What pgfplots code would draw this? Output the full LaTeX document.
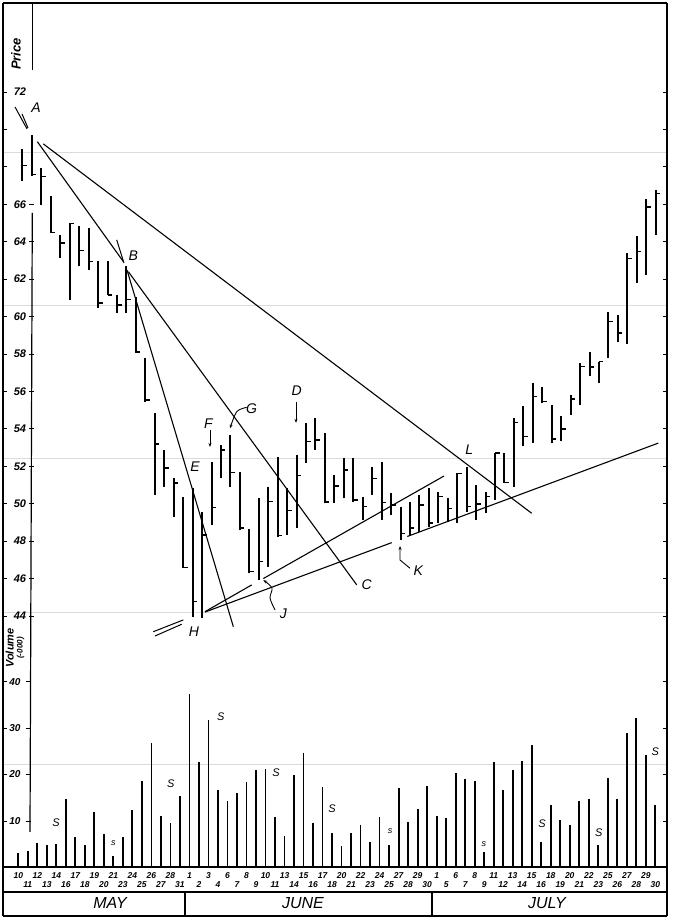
\documentclass[border=0pt]{standalone}
\usepackage{pgfplots}
\pgfplotsset{compat=1.18}
\usepackage{pgfplotstable}
\usepackage{fontspec}
\setmainfont{Liberation Sans}
\usetikzlibrary{arrows.meta}

\pgfplotstableread{
i h l c
0 68.97 67.22 68.08
1 69.72 67.49 67.60
2 67.94 65.98 67.50
3 66.42 64.46 64.50
4 64.37 63.13 63.93
5 65.00 60.90 64.97
6 64.82 62.68 63.54
7 64.73 62.50 62.95
8 62.95 60.45 60.72
9 62.95 61.13 61.15
10 61.17 60.19 60.63
11 62.68 60.19 60.90
12 61.07 58.05 58.10
13 57.80 55.46 55.55
14 54.84 50.47 53.20
15 52.88 50.91 51.90
16 51.36 49.31 51.10
17 50.38 46.55 46.60
18 50.83 43.96 44.76
19 49.58 43.88 48.33
20 52.25 48.87 49.80
21 53.14 51.36 52.88
22 53.68 50.91 51.67
23 51.72 48.60 48.70
24 48.64 46.28 46.37
25 50.29 45.93 46.90
26 50.88 46.64 50.11
27 52.52 48.24 48.30
28 50.83 48.33 49.63
29 52.60 48.70 51.50
30 54.30 52.17 53.32
31 54.57 52.88 53.40
32 53.77 50.02 50.10
33 51.54 50.02 50.95
34 52.43 50.29 51.80
35 52.43 50.11 50.20
36 50.38 49.13 49.84
37 51.98 50.47 51.36
38 52.25 49.13 50.06
39 50.56 49.40 49.94
40 49.84 48.06 48.42
41 50.11 48.33 48.70
42 50.47 48.51 49.94
43 50.83 48.78 48.96
44 50.65 48.96 50.38
45 50.29 49.04 49.75
46 51.63 48.96 51.60
47 51.98 49.58 49.86
48 51.00 49.13 49.99
49 50.65 49.49 50.38
50 52.70 50.20 52.70
51 52.73 51.10 51.13
52 54.57 50.91 54.34
53 55.23 53.06 53.60
54 56.44 53.24 55.73
55 56.26 55.37 55.46
56 55.28 53.24 53.45
57 54.70 53.33 54.00
58 55.82 54.75 55.59
59 57.50 55.28 57.33
60 58.13 56.80 57.30
61 57.60 56.44 57.60
62 60.22 57.78 59.74
63 60.10 58.62 59.12
64 63.39 58.55 63.12
65 64.32 61.82 63.48
66 66.28 62.24 65.86
67 66.78 64.37 66.57
}\pricedata

\pgfplotstableread{
i v
0 3.07
1 3.56
2 5.2
3 4.85
4 5.0
5 14.66
6 6.6
7 4.85
8 11.87
9 7.15
10 2.56
11 6.6
12 12.36
13 18.65
14 26.9
15 11.07
16 9.5
17 15.43
18 37.4
19 22.73
20 31.67
21 16.65
22 14.36
23 15.94
24 18.5
25 20.94
26 21.3
27 10.86
28 6.85
29 19.94
30 24.66
31 9.64
32 17.3
33 7.36
34 4.64
35 7.5
36 9.07
37 5.5
38 10.93
39 4.85
40 17.15
41 9.86
42 12.64
43 17.58
44 11.14
45 10.64
46 20.37
47 19.08
48 18.65
49 3.28
50 22.6
51 16.65
52 20.94
53 23.0
54 26.45
55 5.42
56 13.43
57 10.2
58 9.14
59 14.36
60 14.66
61 4.85
62 19.16
63 14.66
64 28.95
65 32.25
66 24.3
67 13.5
}\voldata

\pgfdeclareplotmark{ctick}{%
  \pgfpathmoveto{\pgfqpoint{0pt}{0pt}}%
  \pgfpathlineto{\pgfqpoint{4.5pt}{0pt}}%
  \pgfusepathqstroke}

\begin{document}
\begin{tikzpicture}[x=1pt,y=1pt]
% faint scan lines
\foreach \yy in {768,615,462,308,156}{
  \draw[gray!28, line width=0.8pt] (3,\yy) -- (667,\yy);
}

\begin{axis}[
  at={(3pt,280pt)}, anchor=south west, scale only axis,
  width=664pt, height=637pt,
  xmin=-2.063, xmax=68.20, ymin=42.717, ymax=76.76,
  clip=false, axis line style={draw=none},
  xtick=\empty,
  ytick={44,46,...,72},
  yticklabels={44,46,48,50,52,54,56,58,60,62,64,66,,,72},
  tick align=inside, major tick length=4pt,
  ytick style={black, line width=0.9pt},
  yticklabel style={anchor=center, xshift=17pt, font=\fontsize{11}{11}\selectfont\bfseries\itshape},
  /pgf/number format/assume math mode=true,
]
% high-low bars
\addplot[draw=none, mark=none, forget plot,
  error bars/.cd, y dir=plus, y explicit, error mark=none,
  error bar style={draw=black, solid, line width=2pt}]
  table[x=i, y=l, y error plus expr=\thisrow{h}-\thisrow{l}] {\pricedata};
% closing ticks
\addplot[only marks, mark=ctick, mark options={black, line width=1.4pt}]
  table[x=i, y=c] {\pricedata};

% trend lines
\addplot[black, line width=1.1pt] coordinates {(2.20,69.23) (53.88,49.49)};
\addplot[black, line width=1.1pt] coordinates {(1.57,69.35) (10.67,62.94)};
\addplot[black, line width=1.0pt] coordinates {(9.97,64.10) (10.74,62.86)};
\addplot[black, line width=1.1pt] coordinates {(11.20,62.40) (35.37,45.66)};
\addplot[black, line width=1.1pt] coordinates {(11.06,62.49) (22.31,43.43)};
\addplot[black, line width=1.1pt] coordinates {(19.31,44.23) (24.25,45.66)};
\addplot[black, line width=1.1pt] coordinates {(25.48,46.00) (44.60,51.48)};
\addplot[black, line width=1.1pt] coordinates {(19.31,44.21) (39.07,47.92)};
\addplot[black, line width=1.1pt] coordinates {(40.72,48.25) (67.28,53.24)};
% pointer strokes at A and H
\addplot[black, line width=1.0pt] coordinates {(-0.79,71.20) (0.48,70.03)};
\addplot[black, line width=1.0pt] coordinates {(-0.05,70.83) (0.58,70.08)};
\addplot[black, line width=1.0pt] coordinates {(13.84,43.16) (17.02,43.79)};
\addplot[black, line width=1.0pt] coordinates {(14.02,42.93) (16.85,43.56)};
% arrows
\addplot[black, line width=0.9pt, -{Stealth[length=4pt,width=3pt]}] coordinates {(28.94,55.44) (28.94,54.32)};
\addplot[black, line width=0.9pt, -{Stealth[length=4pt,width=3pt]}] coordinates {(19.84,53.94) (19.84,53.03)};
\addplot[black, line width=0.9pt, smooth, -{Stealth[length=4pt,width=3pt]}] coordinates {(23.72,55.15) (22.67,54.92) (21.96,54.03)};
\addplot[black, line width=0.9pt, smooth, -{Stealth[length=4pt,width=3pt]}] coordinates {(26.72,44.32) (26.19,44.96) (26.40,45.50) (25.48,45.92)};
\addplot[black, line width=0.9pt, -{Stealth[length=4pt,width=3pt]}] coordinates {(41.01,46.55) (39.95,46.99) (39.95,47.74)};

% ticks on the inner scale line
\pgfplotsinvokeforeach{44,46,...,66}{
  \draw[black, line width=0.9pt] (axis cs:0.69,#1) -- (axis cs:1.22,#1);
}

% letters
\begin{scope}[every node/.style={font=\fontsize{14}{14}\selectfont\itshape}]
\node at (axis cs:1.43,71.19) {A};
\node at (axis cs:11.72,63.26) {B};
\node at (axis cs:36.42,45.66) {C};
\node at (axis cs:29.02,56.04) {D};
\node at (axis cs:18.25,51.98) {E};
\node at (axis cs:19.66,54.30) {F};
\node at (axis cs:24.25,55.10) {G};
\node at (axis cs:18.15,43.16) {H};
\node at (axis cs:27.60,44.14) {J};
\node at (axis cs:41.88,46.42) {K};
\node at (axis cs:47.28,52.91) {L};
\end{scope}
\end{axis}

\begin{axis}[
  at={(3pt,52.6pt)}, anchor=south west, scale only axis,
  width=664pt, height=227.4pt,
  xmin=-1.609, xmax=68.23, ymin=0, ymax=48.98,
  clip=false, axis line style={draw=none},
  ytick={10,20,30,40},
  tick align=inside, major tick length=4pt,
  ytick style={black, line width=0.9pt},
  xtick style={draw=none},
  yticklabel style={anchor=center, xshift=12pt, font=\fontsize{10}{10}\selectfont\bfseries\itshape},
  /pgf/number format/assume math mode=true,
  xtick={0,2,...,66},
  xticklabels={10,12,14,17,19,21,24,26,28,1,3,6,8,10,13,15,17,20,22,24,27,29,1,6,8,11,13,15,18,20,22,25,27,29},
  extra x ticks={1,3,...,67},
  extra x tick labels={11,13,16,18,20,23,25,27,31,2,4,7,9,11,14,16,18,21,23,25,28,30,5,7,9,12,14,16,19,21,23,26,28,30},
  extra x tick style={major tick length=0pt, tick label style={yshift=-9pt}},
  xticklabel style={anchor=center, yshift=-8.5pt, inner sep=0pt, font=\fontsize{8.5}{8.5}\selectfont\bfseries\itshape},
]
\addplot[ycomb, black, line width=1.8pt] table[x=i, y=v] {\voldata};
\pgfplotsinvokeforeach{10,20,30,40}{
  \draw[black, line width=0.9pt] (axis cs:0.76,#1) -- (axis cs:1.34,#1);
}
\begin{scope}[every node/.style={font=\fontsize{11}{11}\selectfont\itshape}]
\node at (axis cs:3.97,9.63) {S};
\node[font=\fontsize{9}{9}\selectfont\itshape] at (axis cs:9.99,5.19) {s};
\node at (axis cs:16.03,18.11) {S};
\node at (axis cs:21.29,32.46) {S};
\node at (axis cs:27.11,20.48) {S};
\node at (axis cs:33.0,12.73) {S};
\node[font=\fontsize{9}{9}\selectfont\itshape] at (axis cs:39.1,7.9) {s};
\node[font=\fontsize{9}{9}\selectfont\itshape] at (axis cs:48.98,5.04) {s};
\node at (axis cs:55.09,9.5) {S};
\node at (axis cs:61.05,7.47) {S};
\node at (axis cs:67.0,24.92) {S};
\end{scope}
\end{axis}

% frame
\draw[black, line width=1.5pt] (3,917) -- (667,917);
\draw[black, line width=1.6pt] (3,917) -- (3,4);
\draw[black, line width=1.5pt] (667,917) -- (667,4);
\draw[black, line width=1.5pt] (3,4) -- (667,4);
\draw[black, line width=1.8pt] (3,52.6) -- (667,52.6);
\draw[black, line width=1.2pt] (3,28) -- (667,28);
\draw[black, line width=1.2pt] (185,28) -- (185,4);
\draw[black, line width=1.2pt] (432,28) -- (432,4);
% scale line
\draw[black, line width=1.2pt] (32.7,917) -- (32.7,850);
\draw[black, line width=1.2pt] (32.3,707) -- (30,88);
% titles
\node[rotate=90, font=\fontsize{13}{13}\selectfont\bfseries\itshape] at (16,866) {Price};
\node[rotate=90, align=center, font=\fontsize{11}{10}\selectfont\bfseries\itshape, inner sep=0pt] at (15,272) {Volume\\[-1pt]{\fontsize{8}{8}\selectfont(-000)}};
\node[font=\fontsize{16}{16}\selectfont\itshape] at (110,17) {MAY};
\node[font=\fontsize{16}{16}\selectfont\itshape] at (303,17) {JUNE};
\node[font=\fontsize{16}{16}\selectfont\itshape] at (547,17) {JULY};

\pgfresetboundingbox
\path[use as bounding box] (0,0) rectangle (672,920);
\end{tikzpicture}
\end{document}
